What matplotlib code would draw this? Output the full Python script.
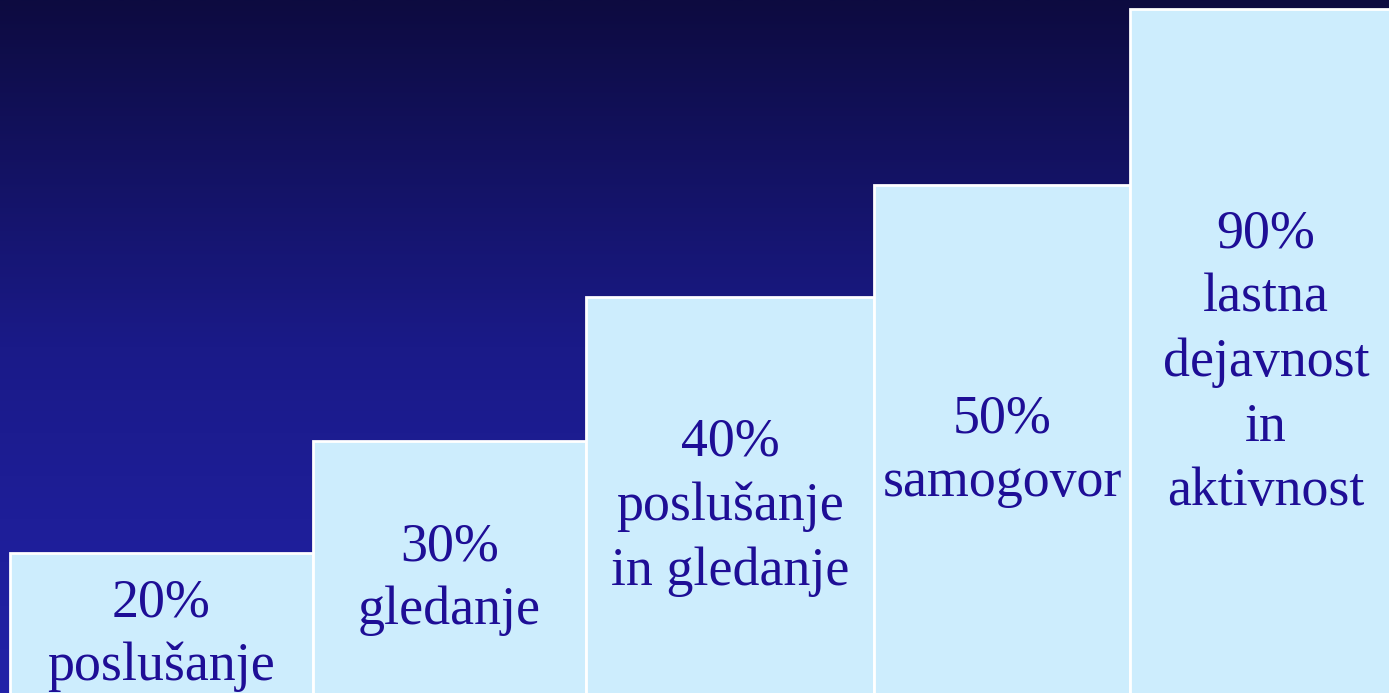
import numpy as np
import matplotlib
matplotlib.use("Agg")
import matplotlib.pyplot as plt
from matplotlib.colors import LinearSegmentedColormap

# data
percents = [20, 30, 40, 50, 90]
labels = ["poslušanje", "gledanje", "poslušanje\nin gledanje", "samogovor",
          "lastna\ndejavnost\nin\naktivnost"]
bar_tops = [140, 252, 396, 508, 684]      # step height, pixel units from the bottom
bar_widths = [303, 273, 288, 256, 272]

W, H = 1389, 693
fig = plt.figure(figsize=(W / 100, H / 100), dpi=100)
ax = fig.add_axes([0, 0, 1, 1])

# gradient background: brighter blue at the bottom, dark navy on top
bg = LinearSegmentedColormap.from_list("bg", ["#2222a8", "#1a1a88", "#0d0b40"])
grad = np.linspace(0, 1, 256).reshape(-1, 1)
ax.imshow(grad, cmap=bg, extent=[0, W, 0, H], origin="lower", aspect="auto", zorder=0)
ax.set_xlim(0, W)
ax.set_ylim(0, H)
ax.axis("off")

bottom = -24   # steps run below the picture edge
lefts = 10 + np.concatenate([[0], np.cumsum(bar_widths)[:-1]])
heights = [t - bottom for t in bar_tops]
ax.bar(lefts, heights, width=bar_widths, bottom=bottom, align="edge",
       color="#cdedfd", edgecolor="white", linewidth=2, zorder=2)

for x, w, h, p, lab in zip(lefts, bar_widths, heights, percents, labels):
    ax.text(x + w / 2, bottom + h / 2, f"{p}%\n{lab}", ha="center", va="center",
            family="Liberation Serif", fontsize=38.8, color="#1e0e96",
            linespacing=1.36, zorder=3)

fig.savefig("out.png", dpi=100)
